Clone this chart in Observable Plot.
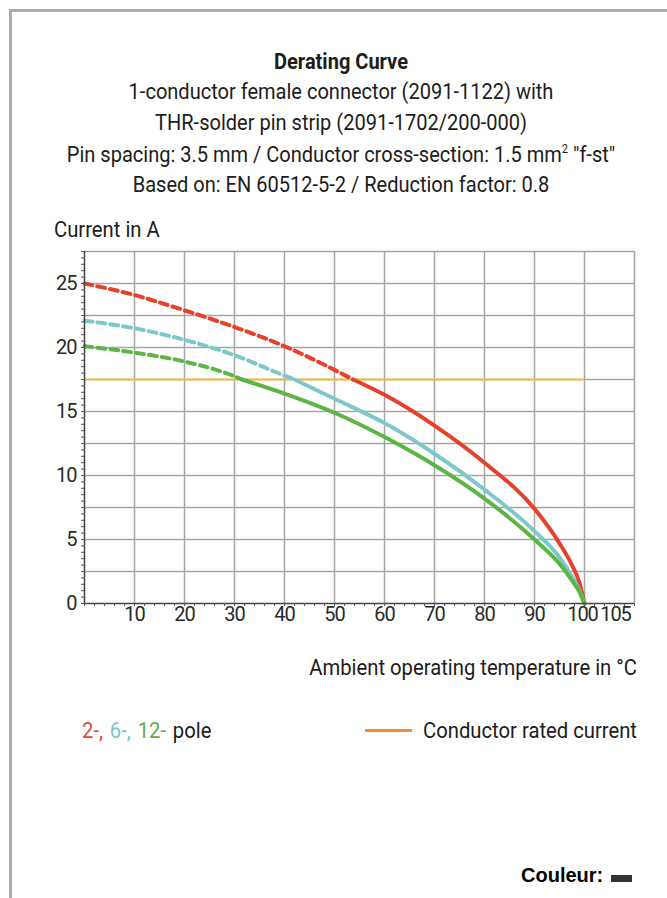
<!DOCTYPE html>
<html><head><meta charset="utf-8">
<script src="https://cdn.jsdelivr.net/npm/d3@7"></script>
<script src="https://cdn.jsdelivr.net/npm/@observablehq/plot@0.6"></script>
<style>
body{margin:0;background:#fff;}
#wrap{position:relative;width:667px;height:898px;overflow:hidden;font-family:"Roboto",sans-serif;color:#1c1c1c;background:#fff;}
.t{position:absolute;white-space:nowrap;line-height:1;}
.c{transform-origin:50% 50%;transform:translate(-50%,-50%) scaleX(0.91);}
.l{transform-origin:0 50%;transform:translate(0,-50%) scaleX(0.92);}
.r{transform-origin:100% 50%;transform:translate(-100%,-50%) scaleX(0.92);}
#chart{position:absolute;left:0;top:0;}
sup{font-size:0.55em;vertical-align:0.75em;line-height:0;}
</style></head><body>
<div id="wrap">
  <div style="position:absolute;left:9px;top:9px;width:700px;height:3px;background:#aaaeb4"></div>
  <div style="position:absolute;left:9px;top:9px;width:3px;height:900px;background:#aaaeb4"></div>
  <div id="chart"></div>
  <div class="t c" style="left:341px;top:62px;font-size:22px;font-weight:bold">Derating Curve</div>
  <div class="t c" style="left:341px;top:92px;font-size:22px">1-conductor female connector (2091-1122) with</div>
  <div class="t c" style="left:341px;top:123px;font-size:22px">THR-solder pin strip (2091-1702/200-000)</div>
  <div class="t c" style="left:341px;top:155px;font-size:22px">Pin spacing: 3.5 mm / Conductor cross-section: 1.5 mm<sup>2</sup> "f-st"</div>
  <div class="t c" style="left:341px;top:185px;font-size:22px">Based on: EN 60512-5-2 / Reduction factor: 0.8</div>
  <div class="t l" style="left:54px;top:230px;font-size:22px">Current in A</div>
  <div class="t r" style="left:637px;top:668px;font-size:22px">Ambient operating temperature in °C</div>
  <div class="t l" style="left:82px;top:731px;font-size:22px;word-spacing:2px"><span style="color:#e0473a">2-,</span> <span style="color:#7ec4cb">6-,</span> <span style="color:#5aae48">12-</span> pole</div>
  <div style="position:absolute;left:365px;top:729px;width:47px;height:3px;background:#f28a2e"></div>
  <div class="t r" style="left:637px;top:731px;font-size:22px">Conductor rated current</div>
  <div class="t" style="left:521px;top:865px;font-size:20px;font-weight:bold;font-family:'Liberation Sans',Arial,sans-serif;color:#000">Couleur:</div>
  <div style="position:absolute;left:611px;top:875px;width:21px;height:7px;background:#333"></div>
</div>
<script>
// ---- data ----
const temps = [0, 10, 20, 30, 40, 50, 60, 70, 80, 90, 95, 97.5, 99, 100];
const pole2 = [25, 24.1, 22.9, 21.6, 20.1, 18.25, 16.3, 13.9, 11.0, 7.4, 4.7, 3.0, 1.6, 0];
const pole6 = [22.1, 21.5, 20.6, 19.4, 17.8, 16.0, 14.1, 11.7, 8.9, 5.65, 3.6, 2.1, 1.0, 0];
const pole12 = [20.1, 19.6, 18.9, 17.75, 16.4, 14.9, 13.0, 10.8, 8.2, 5.0, 3.1, 1.8, 0.9, 0];
const seriesNames = ["2-pole", "6-pole", "12-pole"];
const seriesColors = ["#e5412d", "#7ec8cc", "#5db546"];
const crossingTemps = [53.7, 42, 31.5]; // where each curve meets the rated current
const ratedCurrent = 17.5;
const ratedRange = [0, 100];
const xTicks = [10, 20, 30, 40, 50, 60, 70, 80, 90];
const xTick100 = [100];
const xTickLast = [105];
const yTicks = [0, 5, 10, 15, 20, 25];
const xGrid = [10, 20, 30, 40, 50, 60, 70, 80, 90, 100, 110];
const yGrid = [2.5, 5, 7.5, 10, 12.5, 15, 17.5, 20, 22.5, 25, 27.5];
const xDomain = [0, 110];
const yDomain = [0, 27.5];

const allValues = [pole2, pole6, pole12];
const dashed = [], solid = [];
allValues.forEach((vals, i) => {
  const s = seriesNames[i], cx = crossingTemps[i];
  temps.forEach((t, j) => {
    if (t <= cx) dashed.push({series: s, t, v: vals[j]});
  });
  dashed.push({series: s, t: cx, v: ratedCurrent});
  solid.push({series: s, t: cx, v: ratedCurrent});
  temps.forEach((t, j) => {
    if (t >= cx) solid.push({series: s, t, v: vals[j]});
  });
});

const gridColor = "#a6a6a6";
const tickStyle = {tickSize: 0, tickPadding: 3, label: null, fill: "#2a2a2a", fontSize: 20};
const chart = Plot.plot({
  width: 667,
  height: 640,
  marginLeft: 84,
  marginRight: 33,
  marginTop: 251,
  marginBottom: 37,
  style: {fontFamily: '"Roboto",sans-serif', fontSize: "20px", color: "#2a2a2a", background: "transparent", letterSpacing: "-1px"},
  x: {domain: xDomain},
  y: {domain: yDomain},
  color: {domain: seriesNames, range: seriesColors},
  marks: [
    Plot.ruleX(xGrid, {y1: yDomain[0], y2: yDomain[1], stroke: gridColor, strokeWidth: 1.5}),
    Plot.ruleY(yGrid, {x1: xDomain[0], x2: xDomain[1], stroke: gridColor, strokeWidth: 1.5}),
    Plot.ruleY([ratedCurrent], {x1: ratedRange[0], x2: ratedRange[1], stroke: "#f5b944", strokeWidth: 2}),
    Plot.line(dashed, {x: "t", y: "v", z: "series", stroke: "series", strokeWidth: 4, strokeDasharray: "8,5", curve: "monotone-x"}),
    Plot.line(solid, {x: "t", y: "v", z: "series", stroke: "series", strokeWidth: 4, curve: "monotone-x"}),
    Plot.ruleX([0], {y1: yDomain[0], y2: yDomain[1], stroke: "#444", strokeWidth: 1.5}),
    Plot.ruleY([0], {x1: xDomain[0], x2: xDomain[1], stroke: "#444", strokeWidth: 1.5}),
    Plot.axisX({ticks: d3.range(0, 111, 2), tickSize: 3, tickFormat: () => "", label: null, stroke: "#555"}),
    Plot.axisY({ticks: d3.range(0, 27.6, 0.5), tickSize: 3, tickFormat: () => "", label: null, stroke: "#555"}),
    Plot.axisX({ticks: xTicks, ...tickStyle}),
    Plot.axisX({ticks: xTick100, dx: -2, ...tickStyle}),
    Plot.axisX({ticks: xTickLast, dx: 6, ...tickStyle}),
    Plot.axisY({ticks: yTicks, ...tickStyle, tickPadding: 8})
  ]
});
document.getElementById("chart").appendChild(chart);
</script>
</body></html>
